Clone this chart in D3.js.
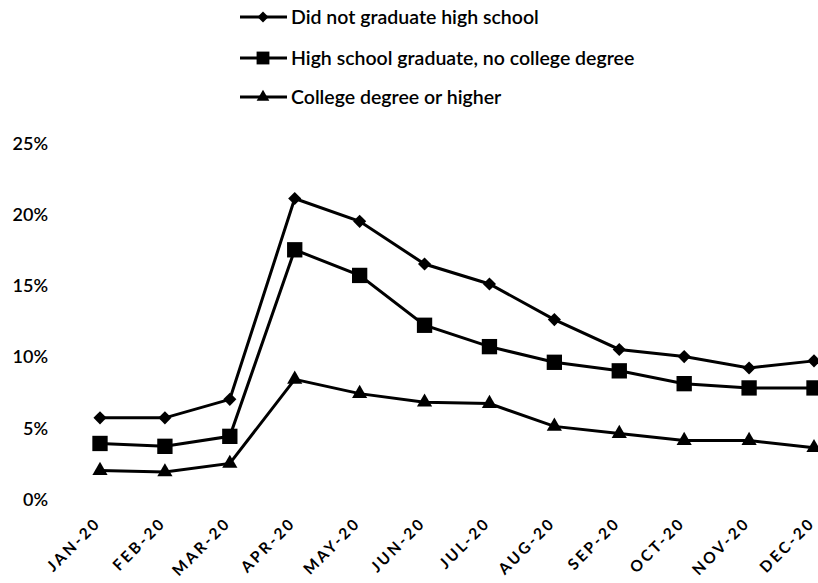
<!DOCTYPE html>
<html>
<head>
<meta charset="utf-8">
<script src="https://cdn.jsdelivr.net/npm/d3@7"></script>
<style>
  html, body { margin: 0; padding: 0; background: #fff; }
  svg { display: block; }
  text { font-family: Lato, "Open Sans", sans-serif; fill: #000; }
</style>
</head>
<body>
<div id="chart"></div>
<script>
// Monthly unemployment rate by education level, 2020
const months = ["JAN-20", "FEB-20", "MAR-20", "APR-20", "MAY-20", "JUN-20",
                "JUL-20", "AUG-20", "SEP-20", "OCT-20", "NOV-20", "DEC-20"];
const noDiploma   = [5.7, 5.7, 7.0, 21.1, 19.5, 16.5, 15.1, 12.6, 10.5, 10.0, 9.2, 9.7];
const highSchool  = [3.9, 3.7, 4.4, 17.5, 15.7, 12.2, 10.7, 9.6, 9.0, 8.1, 7.8, 7.8];
const college     = [2.0, 1.9, 2.5, 8.4, 7.4, 6.8, 6.7, 5.1, 4.6, 4.1, 4.1, 3.6];
const seriesNames = ["Did not graduate high school",
                     "High school graduate, no college degree",
                     "College degree or higher"];
const yTicks = [0, 5, 10, 15, 20, 25];

const series = [
  { name: seriesNames[0], values: noDiploma,  symbol: d3.symbolDiamond2, size: 110 },
  { name: seriesNames[1], values: highSchool, symbol: d3.symbolSquare,   size: 235 },
  { name: seriesNames[2], values: college,    symbol: d3.symbolTriangle, size: 100 }
];

const W = 818, H = 583;
const svg = d3.select("#chart").append("svg")
  .attr("width", W).attr("height", H);

const x = d3.scalePoint().domain(months).range([100, 814]);
const y = d3.scaleLinear().domain([0, 25]).range([499, 143]);

// y-axis labels (no axis line or gridlines)
const yAxis = d3.axisLeft(y).tickValues(yTicks).tickSize(0).tickPadding(0)
  .tickFormat(d => d + "%");
const gy = svg.append("g").attr("transform", "translate(48,0)").call(yAxis);
gy.select(".domain").remove();
gy.selectAll("text")
  .style("font-family", "Lato, sans-serif")
  .style("font-size", "18px").style("font-weight", "600")
  .attr("fill", "#000").attr("dy", "0.35em");

// x-axis labels rotated 45 degrees
const xAxis = d3.axisBottom(x).tickSize(0).tickPadding(0);
const gx = svg.append("g").attr("transform", "translate(-8,517)").call(xAxis);
gx.select(".domain").remove();
gx.selectAll("text")
  .style("font-family", "Lato, sans-serif")
  .style("font-size", "15.5px").style("font-weight", "700")
  .style("letter-spacing", "2.6px")
  .attr("fill", "#000")
  .attr("text-anchor", "end")
  .attr("dy", "0.75em").attr("dx", "0.1em")
  .attr("transform", "rotate(-45)");

// lines and markers
const line = d3.line().x((d, i) => x(months[i])).y(d => y(d));
series.forEach(s => {
  svg.append("path")
    .attr("d", line(s.values))
    .attr("fill", "none").attr("stroke", "#000").attr("stroke-width", 3);
  svg.append("g").selectAll("path")
    .data(s.values)
    .join("path")
    .attr("d", d3.symbol().type(s.symbol).size(s.size))
    .attr("transform", (d, i) => `translate(${x(months[i])},${y(d)})`)
    .attr("fill", "#000");
});

// legend
const legendY = [17, 58, 97];
series.forEach((s, i) => {
  const g = svg.append("g").attr("transform", `translate(240,${legendY[i]})`);
  g.append("line").attr("x1", 0).attr("x2", 47).attr("y1", 0).attr("y2", 0)
    .attr("stroke", "#000").attr("stroke-width", 3);
  g.append("path").attr("d", d3.symbol().type(s.symbol).size(s.size * 0.7))
    .attr("transform", "translate(23,0)").attr("fill", "#000");
  g.append("text").attr("x", 51).attr("dy", "0.35em")
    .style("font-size", "19.5px").style("font-weight", "600")
    .text(s.name);
});
</script>
</body>
</html>
